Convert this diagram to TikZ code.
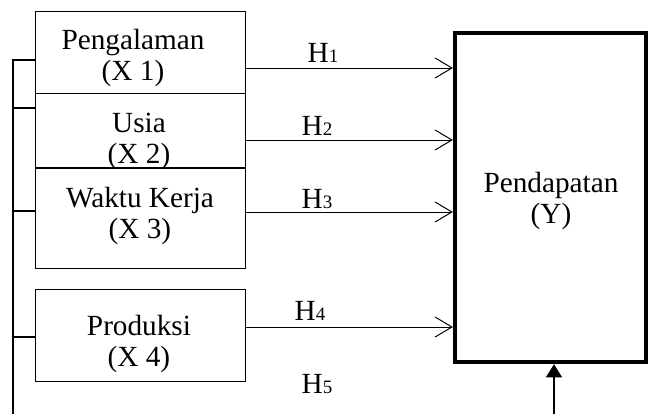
\documentclass[tikz,border=0pt]{standalone}
\usepackage{fontspec}
\setmainfont{Liberation Serif}
\usetikzlibrary{arrows.meta}
\newcommand{\hlab}[1]{H{\fontsize{13.5}{13.5}\selectfont\raisebox{-0.5pt}{#1}}}

\begin{document}
\begin{tikzpicture}
      [
        x=0.025cm, y=-0.025cm,
        varbox/.style={rectangle, draw=black, line width=0.7pt, minimum width=5.225cm, inner sep=0pt},
        outbox/.style={rectangle, draw=black, line width=3pt, minimum width=4.775cm, minimum height=8.225cm, inner sep=0pt},
        lbl/.style={align=center, font=\fontsize{20.8}{22}\selectfont, inner sep=0pt},
        hyp/.style={anchor=base, font=\fontsize{20.8}{22}\selectfont, inner sep=0pt},
        feed/.style={line width=0.7pt, -{Straight Barb[length=0.42cm, width=0.5cm]}},
        tie/.style={line width=1.4pt}
      ]
      \useasboundingbox (0,0) rectangle (648,414);
      \node[varbox, minimum height=2.025cm] (x1) at (140.5,52.5) {};
      \node[varbox, minimum height=1.875cm] (x2) at (140.5,130.5) {};
      \node[varbox, minimum height=2.5cm] (x3) at (140.5,218) {};
      \node[varbox, minimum height=2.3cm] (x4) at (140.5,335) {};
      \node[outbox] (y) at (550.5,197.5) {};
      \node[lbl] (t1) at (133,58) {Pengalaman\\(X 1)};
      \node[lbl] (t2) at (139,141) {Usia\\(X 2)};
      \node[lbl] (t3) at (140,216) {Waktu Kerja\\(X 3)};
      \node[lbl] (t4) at (139,344) {Produksi\\(X 4)};
      \node[lbl] (ty) at (551,201) {Pendapatan\\(Y)};
      \node[hyp] (h1) at (323,62) {\hlab{1}};
      \node[hyp] (h2) at (317,135) {\hlab{2}};
      \node[hyp] (h3) at (317,208) {\hlab{3}};
      \node[hyp] (h4) at (310,320) {\hlab{4}};
      \node[hyp] (h5) at (317,393) {\hlab{5}};
      % arrows into Y
      \coordinate (a1) at ([yshift=-0.3875cm]x1.east);
      \coordinate (a2) at ([yshift=-0.2375cm]x2.east);
      \coordinate (a3) at ([yshift=0.15cm]x3.east);
      \coordinate (a4) at ([yshift=0.2cm]x4.east);
      \draw[feed] (a1) -- (a1 -| y.west);
      \draw[feed] (a2) -- (a2 -| y.west);
      \draw[feed] (a3) -- (a3 -| y.west);
      \draw[feed] (a4) -- (a4 -| y.west);
      % left bracket
      \coordinate (tb) at (13,414);
      \coordinate (k1) at ([yshift=-0.1875cm]x1.west);
      \coordinate (k2) at ([yshift=0.5625cm]x2.west);
      \coordinate (k3) at ([yshift=0.175cm]x3.west);
      \coordinate (k4) at ([yshift=-0.05cm]x4.west);
      \draw[tie] (tb) |- (k1);
      \draw[tie] (k2) -- (k2 -| tb);
      \draw[tie] (k3) -- (k3 -| tb);
      \draw[tie] (k4) -- (k4 -| tb);
      % arrow from below
      \coordinate (yb) at (554,414);
      \draw[line width=0.9pt, -{Triangle[length=0.33cm, width=0.4cm]}] (yb) -- (yb |- y.south);
    \end{tikzpicture}
\end{document}
